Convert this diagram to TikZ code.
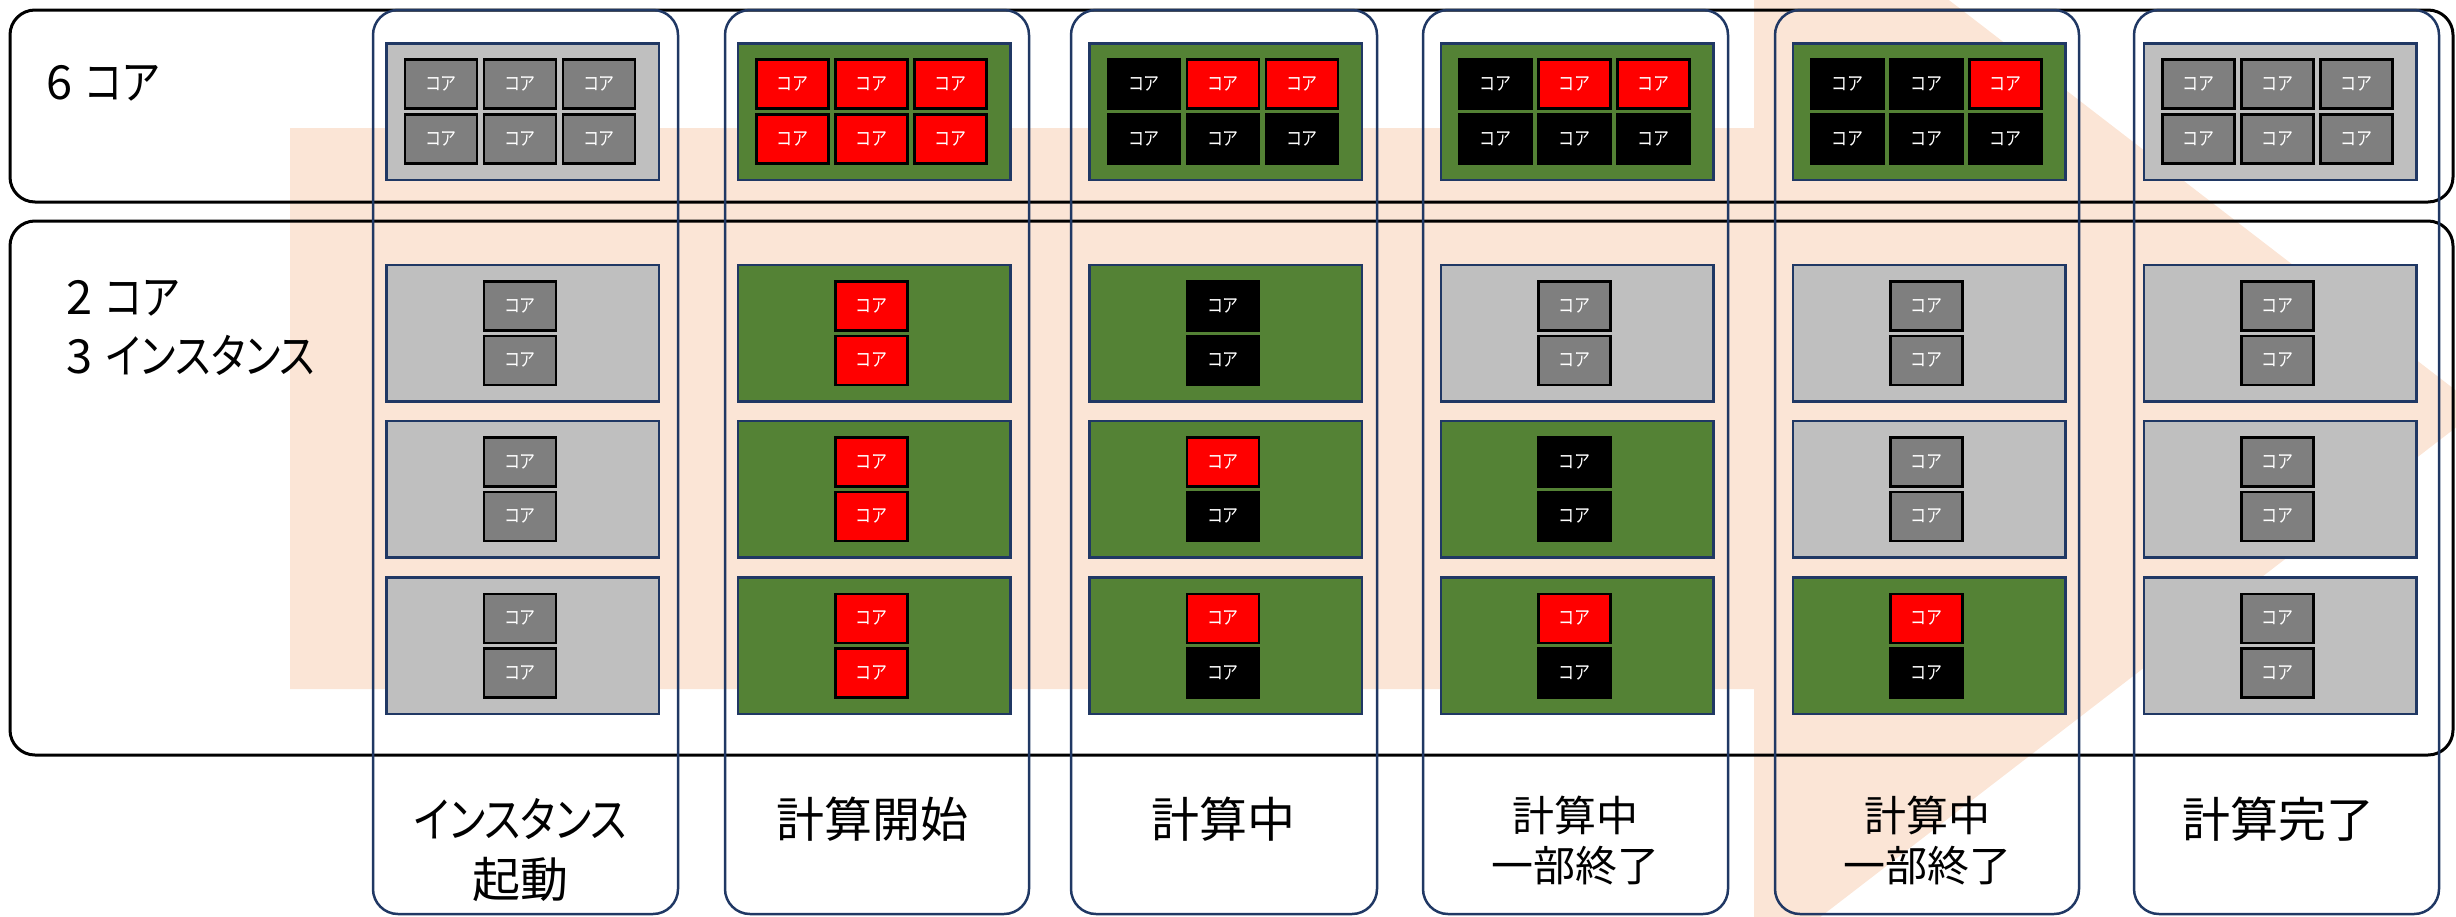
\documentclass[tikz,border=0pt]{standalone}
\usepackage{fontspec}
\newfontfamily\jp[RawFeature=+palt]{Noto Sans CJK JP}
\newfontfamily\jpn[RawFeature=+palt,FakeStretch=0.84]{Noto Sans CJK JP}
\definecolor{peach}{HTML}{FBE5D6}
\definecolor{navy}{HTML}{203864}
\definecolor{instgray}{HTML}{BFBFBF}
\definecolor{coregray}{HTML}{7F7F7F}
\definecolor{busygreen}{HTML}{548235}
\definecolor{corered}{HTML}{FF0000}
\tikzset{
  outerbox/.style={draw=black, line width=3pt, rounded corners=25pt},
  colbox/.style={draw=navy, line width=2.5pt, rounded corners=25pt},
  inst/.style={draw=navy, line width=2.5pt, minimum width=272.5pt, minimum height=136.5pt, inner sep=0pt},
  core/.style={minimum width=72pt, minimum height=49pt, inner sep=0pt, text=white, font=\jpn\fontsize{19}{19}\selectfont},
  cg/.style={core, fill=coregray, draw=black, line width=2.5pt},
  cr/.style={core, fill=corered, draw=black, line width=2.5pt},
  cb/.style={core, fill=black, minimum width=74.5pt, minimum height=51.5pt},
  lab/.style={inner sep=0pt, align=center, font=\jp\fontsize{48}{60}\selectfont},
  labsmall/.style={inner sep=0pt, align=center, font=\jp\fontsize{42}{50}\selectfont},
  rowlab/.style={inner sep=0pt, anchor=west, align=left, font=\jp\fontsize{47}{59}\selectfont}
}
\newcommand{\sixbox}[9]{%
  \node[inst, fill=#3] (#1) at (#2,111.5) {};
  \node[#4] (#1a) at (#2-81.5,84) {コア};
  \node[#5] (#1b) at (#2-2.5,84) {コア};
  \node[#6] (#1c) at (#2+76.5,84) {コア};
  \node[#7] (#1d) at (#2-81.5,138.75) {コア};
  \node[#8] (#1e) at (#2-2.5,138.75) {コア};
  \node[#9] (#1f) at (#2+76.5,138.75) {コア};
}
\newcommand{\twobox}[6]{%
  \node[inst, fill=#4] (#1) at (#2,#3) {};
  \node[#5] (#1t) at (#2-2.5,#3-27.25) {コア};
  \node[#6] (#1b) at (#2-2.5,#3+27.25) {コア};
}
\begin{document}
\begin{tikzpicture}[x=1pt,y=-1pt]
\useasboundingbox (0,0) rectangle (2456,916);
\clip (0,0) rectangle (2456,916);
% background arrow
\fill[peach] (290,128) -- (1754,128) -- (1754,-150) -- (2480,409) -- (1754,968) -- (1754,689) -- (290,689) -- cycle;
% row boxes
\draw[outerbox] (10,10) rectangle (2453,202);
\draw[outerbox] (10,221) rectangle (2453,755);
% columns
\draw[colbox] (373,10) rectangle (678,914);
\draw[colbox] (725,10) rectangle (1029,914);
\draw[colbox] (1071,10) rectangle (1377,914);
\draw[colbox] (1423,10) rectangle (1728,914);
\draw[colbox] (1775,10) rectangle (2079,914);
\draw[colbox] (2134,10) rectangle (2439,914);
% row labels
\node[rowlab] (r1) at (46,83) {6\kern13pt{\jpn コア}};
\node[rowlab] (r2) at (66,328) {2\kern13pt{\jpn コア}\\3\kern14pt{\jpn インスタンス}};
% six-core instances
\sixbox{s1}{522.5}{instgray}{cg}{cg}{cg}{cg}{cg}{cg}
\sixbox{s2}{874}{busygreen}{cr}{cr}{cr}{cr}{cr}{cr}
\sixbox{s3}{1225.5}{busygreen}{cb}{cr}{cr}{cb}{cb}{cb}
\sixbox{s4}{1577}{busygreen}{cb}{cr}{cr}{cb}{cb}{cb}
\sixbox{s5}{1929}{busygreen}{cb}{cb}{cr}{cb}{cb}{cb}
\sixbox{s6}{2280}{instgray}{cg}{cg}{cg}{cg}{cg}{cg}
% two-core instances
\twobox{t11}{522.5}{333}{instgray}{cg}{cg}
\twobox{t12}{522.5}{489}{instgray}{cg}{cg}
\twobox{t13}{522.5}{645.5}{instgray}{cg}{cg}
\twobox{t21}{874}{333}{busygreen}{cr}{cr}
\twobox{t22}{874}{489}{busygreen}{cr}{cr}
\twobox{t23}{874}{645.5}{busygreen}{cr}{cr}
\twobox{t31}{1225.5}{333}{busygreen}{cb}{cb}
\twobox{t32}{1225.5}{489}{busygreen}{cr}{cb}
\twobox{t33}{1225.5}{645.5}{busygreen}{cr}{cb}
\twobox{t41}{1577}{333}{instgray}{cg}{cg}
\twobox{t42}{1577}{489}{busygreen}{cb}{cb}
\twobox{t43}{1577}{645.5}{busygreen}{cr}{cb}
\twobox{t51}{1929}{333}{instgray}{cg}{cg}
\twobox{t52}{1929}{489}{instgray}{cg}{cg}
\twobox{t53}{1929}{645.5}{busygreen}{cr}{cb}
\twobox{t61}{2280}{333}{instgray}{cg}{cg}
\twobox{t62}{2280}{489}{instgray}{cg}{cg}
\twobox{t63}{2280}{645.5}{instgray}{cg}{cg}
% column labels
\node[lab] (l1) at (520.5,850) {{\jpn インスタンス}\\起動};
\node[lab] (l2) at (872,819) {計算開始};
\node[lab] (l3) at (1223.5,819) {計算中};
\node[labsmall] (l4) at (1575,841) {計算中\\一部終了};
\node[labsmall] (l5) at (1927,841) {計算中\\一部終了};
\node[lab] (l6) at (2278,819) {計算完了};
\end{tikzpicture}
\end{document}
